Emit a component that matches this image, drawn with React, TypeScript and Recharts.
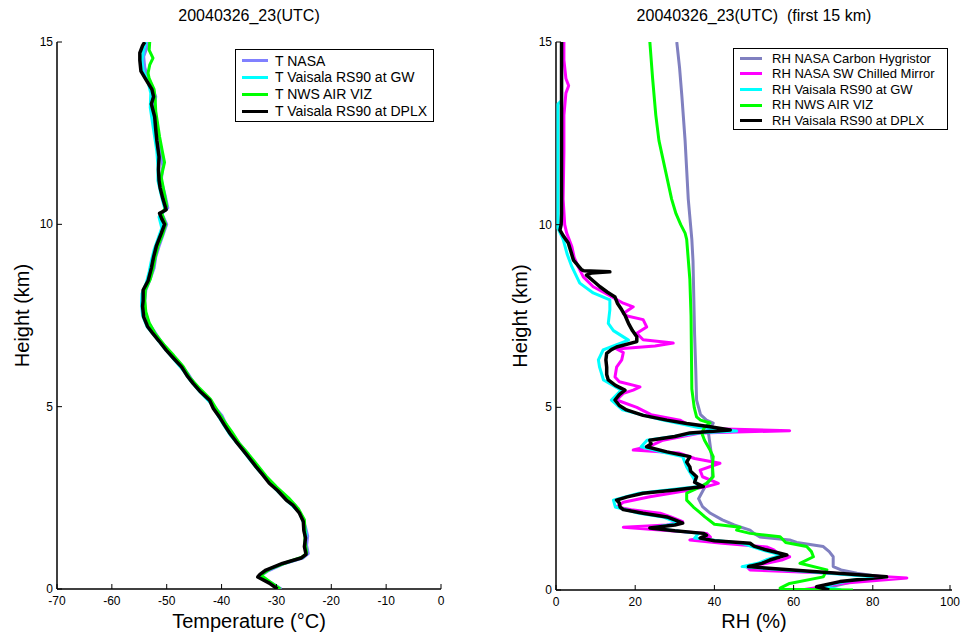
import React from 'react';
import { ScatterChart, Scatter, XAxis, YAxis } from 'recharts';

const FONT = '"Liberation Sans", Arial, Helvetica, sans-serif';

// each profile is a list of [height (km), value]
type Profile = [number, number][];

const heightTicks = [0, 5, 10, 15];
const tempTicks = [-70, -60, -50, -40, -30, -20, -10, 0];
const rhTicks = [0, 20, 40, 60, 80, 100];

// ---- temperature (°C) ----
const tNasa: Profile = [
  [0, -29.1], [0.18, -31], [0.35, -33], [0.5, -31.5], [0.7, -28.5], [0.85, -25.2], [0.97, -24.2],
  [1.2, -24.5], [1.45, -24.3], [1.7, -24.7], [2.0, -25.4], [2.3, -26.6], [2.6, -28.9], [2.9, -30.9],
  [3.2, -32.6], [3.5, -34.2], [3.8, -35.7], [4.1, -37.4], [4.4, -38.8], [4.75, -39.9], [5.0, -41.3],
  [5.3, -42.9], [5.6, -44.8], [5.9, -46.1], [6.2, -47.6], [6.5, -49.5], [6.8, -51.1], [7.05, -52.2],
  [7.3, -53.3], [7.6, -53.9], [7.9, -54], [8.2, -53.8], [8.5, -53.0], [8.8, -52.3], [9.1, -52],
  [9.4, -51.4], [9.7, -50.7], [10.0, -50.0], [10.3, -50.9], [10.45, -49.8], [10.8, -50.3],
  [11.2, -51.0], [11.6, -50.7], [12.0, -51.2], [12.4, -51.5], [12.8, -51.8], [13.2, -52.4],
  [13.5, -52.0], [13.8, -52.7], [14.0, -53.3], [14.3, -54.0], [14.6, -54.2], [14.85, -53.6], [15.0, -53.5],
];

const tGw: Profile = [
  [0, -29.5], [0.18, -31.4], [0.35, -33.2], [0.52, -31.7], [0.7, -28.7], [0.86, -25.3], [0.97, -24.5],
  [1.2, -24.8], [1.5, -24.6], [1.8, -25.0], [2.1, -25.8], [2.4, -27.9], [2.7, -29.9], [3.0, -31.7],
  [3.3, -33.5], [3.6, -35.1], [3.9, -36.6], [4.2, -38.3], [4.5, -39.6], [4.8, -40.8], [5.1, -42.0],
  [5.4, -43.9], [5.7, -45.6], [6.0, -47.0], [6.3, -48.7], [6.6, -50.4], [6.9, -52.0], [7.2, -53.6],
  [7.5, -54.4], [7.8, -54.6], [8.1, -54.5], [8.4, -53.7], [8.7, -53.2], [9.0, -52.8], [9.3, -52.3],
  [9.6, -51.6], [9.9, -50.9], [10.2, -51.4], [10.4, -50.3], [10.8, -51], [11.2, -51.6], [11.6, -51.6],
  [12.0, -51.8], [12.4, -52.2], [12.8, -52.6], [13.2, -53.0], [13.6, -52.9], [13.9, -53.4],
  [14.2, -54.3], [14.5, -54.5], [14.8, -54.2], [15.0, -53.8],
];

const tNws: Profile = [
  [0, -29.3], [0.2, -31.2], [0.38, -32.8], [0.55, -31.2], [0.72, -28.3], [0.88, -25.2], [1.0, -24.5],
  [1.3, -24.8], [1.6, -24.8], [1.9, -24.9], [2.2, -26.0], [2.5, -27.8], [2.8, -30.0], [3.1, -31.9],
  [3.4, -33.5], [3.7, -35.1], [4.0, -36.8], [4.3, -38.1], [4.6, -39.5], [4.9, -40.8], [5.2, -42.0],
  [5.5, -44.0], [5.8, -45.8], [6.1, -47.0], [6.4, -48.7], [6.7, -50.5], [7.0, -52.1], [7.3, -53.2],
  [7.6, -53.8], [7.9, -54.0], [8.2, -53.9], [8.5, -53.0], [8.8, -52.5], [9.1, -52.1], [9.4, -51.6],
  [9.7, -50.8], [10.0, -50.2], [10.3, -50.9], [10.5, -50.0], [10.9, -50.5], [11.3, -51.0],
  [11.7, -50.4], [12.0, -50.8], [12.4, -51.3], [12.8, -51.7], [13.1, -52.0], [13.4, -52.1],
  [13.7, -52.3], [14.0, -53.2], [14.15, -53.4], [14.37, -53.1], [14.56, -52.5], [14.78, -53.2], [15.0, -53.1],
];

const tDplx: Profile = [
  [0.0, -29.8], [0.16, -31.3], [0.33, -33.4], [0.4, -33.0], [0.52, -31.9], [0.7, -28.9], [0.85, -25.5],
  [0.95, -24.6], [1.16, -24.9], [1.4, -24.7], [1.6, -25.0], [1.85, -25.1], [2.08, -25.8], [2.3, -27.0],
  [2.44, -28.2], [2.7, -29.8], [2.9, -31.3], [3.15, -32.6], [3.35, -33.7], [3.6, -35.0], [3.81, -36.1],
  [4.05, -37.4], [4.27, -38.5], [4.5, -39.5], [4.72, -40.4], [4.95, -41.5], [5.18, -42.2], [5.4, -43.8],
  [5.64, -45.2], [5.85, -46.3], [6.09, -47.3], [6.3, -48.6], [6.55, -50.1], [6.8, -51.4], [7.0, -52.5],
  [7.2, -53.5], [7.46, -54.2], [7.75, -54.4], [7.9, -54.3], [8.2, -54.3], [8.45, -53.4], [8.8, -52.8],
  [9.1, -52.4], [9.4, -51.9], [9.75, -51.0], [10.0, -50.4], [10.15, -50.9], [10.3, -51.3], [10.4, -50.1],
  [10.7, -50.7], [11.0, -51.2], [11.2, -51.4], [11.5, -51.5], [11.85, -51.4], [12.3, -51.8],
  [12.6, -52.0], [12.95, -52.2], [13.3, -52.8], [13.5, -52.4], [13.7, -52.7], [13.95, -53.7],
  [14.2, -54.7], [14.5, -54.9], [14.7, -54.9], [14.9, -54.4], [15.0, -54.0],
];

// ---- relative humidity (%) ----
const rhNasaCarbon: Profile = [
  [0, 66], [0.1, 70], [0.25, 76], [0.36, 82], [0.46, 76], [0.55, 72], [0.64, 70], [0.8, 70],
  [0.91, 70], [1.05, 69], [1.19, 67.5], [1.3, 60.8], [1.37, 59], [1.45, 51.5], [1.55, 50],
  [1.64, 49], [1.78, 45], [1.92, 42], [2.1, 39], [2.28, 37], [2.5, 36], [2.8, 37.5], [3.1, 39.5],
  [3.5, 39.5], [3.9, 39], [4.3, 38.5], [4.57, 39.7], [4.65, 38], [4.8, 36.5], [5.2, 35.5], [6, 35.3],
  [7, 35], [8, 34.8], [9, 34.6], [9.6, 34.3], [10.7, 33.4], [11.5, 33], [12.3, 32.6], [13.5, 31.8],
  [14.3, 31.2], [15, 30.5],
];

const rhNasaMirror: Profile = [
  [0, 62], [0.1, 68], [0.18, 71.7], [0.33, 88.6], [0.4, 78], [0.46, 70], [0.55, 49], [0.64, 48.2],
  [0.73, 53.2], [0.82, 57], [0.91, 59], [1.0, 56], [1.1, 55], [1.18, 53.2], [1.28, 42], [1.37, 33.8],
  [1.45, 39], [1.55, 38], [1.63, 28], [1.72, 17], [1.78, 28], [1.87, 32], [2.0, 29], [2.1, 26.3],
  [2.2, 19], [2.27, 15.3], [2.4, 17], [2.55, 23.7], [2.65, 29], [2.74, 33.8], [2.83, 38], [2.92, 41],
  [3.1, 37], [3.28, 36.4], [3.47, 41.4], [3.6, 35], [3.75, 31], [3.83, 19.5], [3.95, 24], [4.1, 27],
  [4.3, 36.4], [4.36, 59], [4.42, 38], [4.55, 33], [4.65, 31.3], [4.8, 24], [5.0, 20.4], [5.2, 15.3],
  [5.38, 17], [5.47, 19.5], [5.56, 21.2], [5.7, 16], [5.83, 14.9], [6.1, 15.3], [6.3, 16.6], [6.5, 17],
  [6.6, 15.3], [6.68, 25], [6.76, 29.6], [6.85, 22], [7.03, 20.4], [7.2, 22.9], [7.4, 22], [7.5, 18],
  [7.57, 17], [7.75, 19.5], [7.85, 17], [8.0, 14.5], [8.15, 12], [8.3, 9.4], [8.57, 6.9], [8.85, 5.6],
  [9.1, 4.6], [9.4, 4], [9.77, 2.7], [10.0, 2.2], [10.7, 1.8], [12, 2], [13, 2], [13.6, 2.5],
  [13.8, 3.2], [14.0, 2.5], [14.5, 2], [15, 2],
];

const rhGw: Profile = [
  [0, 72], [0.1, 67], [0.23, 73], [0.36, 80], [0.5, 64], [0.64, 47], [0.73, 51], [0.82, 53],
  [0.96, 57], [1.1, 52], [1.28, 47], [1.42, 35], [1.55, 36], [1.7, 24], [1.83, 31], [2.0, 27],
  [2.1, 21], [2.27, 15], [2.46, 14.5], [2.65, 21], [2.83, 36], [3.1, 34.5], [3.37, 33], [3.65, 32],
  [3.8, 26], [3.92, 21.5], [4.1, 23], [4.3, 36], [4.35, 45.6], [4.45, 36], [4.65, 27], [4.93, 16.8],
  [5.2, 14], [5.47, 16.5], [5.75, 12], [6.1, 11], [6.3, 10.7], [6.57, 11.9], [6.84, 18.3], [7.1, 14.5],
  [7.3, 13.2], [7.67, 13.6], [7.94, 13.6], [8.13, 9.4], [8.4, 6], [8.85, 4], [9.2, 2.8], [9.6, 1.8],
  [9.9, 0.5], [11, 0.5], [12, 0.5], [13, 0.5], [13.3, 0.5], [13.4, 1.4], [15, 1.4],
];

const rhNws: Profile = [
  [0, 75], [0.02, 57], [0.05, 56.6], [0.18, 59], [0.36, 67.5], [0.55, 68.4], [0.73, 61.6], [0.91, 65],
  [1.05, 64.5], [1.19, 63.3], [1.3, 58], [1.46, 56.6], [1.55, 49], [1.64, 45.6], [1.72, 46.5],
  [1.8, 40], [2.0, 37.6], [2.15, 36], [2.27, 34.7], [2.46, 33], [2.65, 33], [2.8, 36], [2.92, 38],
  [3.1, 39.7], [3.4, 39.5], [3.65, 39.7], [3.83, 38.9], [4.1, 37.5], [4.3, 36.8], [4.45, 37.5],
  [4.57, 38.9], [4.65, 36.5], [4.74, 35.5], [5.0, 34.9], [5.5, 34.3], [6.5, 34.2], [7.5, 34.1],
  [8.5, 33.8], [9.6, 33], [9.77, 32.6], [10.0, 31.5], [10.3, 30.3], [10.7, 29.2], [11.5, 27.6],
  [12.3, 26], [13.0, 25.2], [14.0, 24.4], [15, 23.7],
];

const rhDplx: Profile = [
  [0.0, 69], [0.09, 65.8], [0.23, 71.7], [0.36, 83.5], [0.5, 65.8], [0.64, 48.6], [0.73, 52],
  [0.82, 54], [0.96, 58.3], [1.1, 53], [1.2, 50], [1.28, 49], [1.35, 40], [1.42, 36.4], [1.5, 38],
  [1.55, 37.2], [1.62, 30], [1.7, 23.7], [1.78, 30], [1.83, 32], [1.92, 30], [2.0, 28], [2.1, 22],
  [2.2, 17], [2.27, 16.2], [2.38, 16], [2.46, 15.3], [2.55, 18], [2.65, 22], [2.74, 30], [2.83, 37.2],
  [2.95, 35], [3.1, 35.5], [3.25, 34], [3.37, 33.8], [3.5, 33], [3.65, 33.8], [3.78, 28], [3.92, 22.9],
  [4.0, 24], [4.1, 23.7], [4.2, 30], [4.3, 33.8], [4.38, 44], [4.47, 38.9], [4.56, 33], [4.65, 28],
  [4.78, 22], [4.93, 17.8], [5.05, 16], [5.2, 14.9], [5.35, 16], [5.47, 17.4], [5.6, 15], [5.75, 13.2],
  [5.9, 12.8], [6.1, 12.8], [6.3, 12.6], [6.48, 12.8], [6.58, 14], [6.65, 15.3], [6.8, 20.4],
  [6.93, 20.4], [7.1, 19.3], [7.3, 18.3], [7.5, 17.5], [7.67, 16.6], [7.85, 15.5], [8.02, 14.9],
  [8.15, 13], [8.3, 11.1], [8.45, 9.5], [8.62, 7.7], [8.68, 9], [8.71, 13.6], [8.74, 7], [8.76, 6.5],
  [9.03, 4.4], [9.25, 3.8], [9.5, 3.1], [9.7, 1.8], [9.85, 1.0], [10.0, 1.3], [10.3, 1.4], [11, 1.4],
  [12, 1.4], [13, 1.4], [14, 1.4], [15, 1.4],
];

interface Series {
  name: string;
  color: string;
  width: number;
  data: Profile;
}

const tempSeries: Series[] = [
  { name: 'T NASA', color: '#8080ff', width: 3, data: tNasa },
  { name: 'T Vaisala RS90 at GW', color: '#00ffff', width: 3, data: tGw },
  { name: 'T NWS AIR VIZ', color: '#00ff00', width: 3, data: tNws },
  { name: 'T Vaisala RS90 at DPLX', color: '#000000', width: 3.5, data: tDplx },
];

const rhSeries: Series[] = [
  { name: 'RH NASA Carbon Hygristor', color: '#8080c0', width: 3, data: rhNasaCarbon },
  { name: 'RH NASA SW Chilled Mirror', color: '#ff00ff', width: 3, data: rhNasaMirror },
  { name: 'RH Vaisala RS90 at GW', color: '#00ffff', width: 3, data: rhGw },
  { name: 'RH NWS AIR VIZ', color: '#00ff00', width: 3, data: rhNws },
  { name: 'RH Vaisala RS90 at DPLX', color: '#000000', width: 3.5, data: rhDplx },
];

const toPoints = (p: Profile) => p.map(([h, v]) => ({ h, v }));

// inward tick marks, like the original plotting package
const BottomTick = ({ x, y, payload }: any) => (
  <g>
    <line x1={x} y1={y} x2={x} y2={y - 5} stroke="#000" strokeWidth={1} />
    <text x={x} y={y + 16} textAnchor="middle" fontSize={12} fontFamily={FONT} fill="#000">
      {payload.value}
    </text>
  </g>
);

const TopTick = ({ x, y }: any) => (
  <line x1={x} y1={y} x2={x} y2={y + 5} stroke="#000" strokeWidth={1} />
);

const LeftTick = ({ x, y, payload }: any) => (
  <g>
    <line x1={x} y1={y} x2={x + 5} y2={y} stroke="#000" strokeWidth={1} />
    <text x={x - 4} y={y + 4} textAnchor="end" fontSize={12} fontFamily={FONT} fill="#000">
      {payload.value}
    </text>
  </g>
);

const RightTick = ({ x, y }: any) => (
  <line x1={x} y1={y} x2={x - 5} y2={y} stroke="#000" strokeWidth={1} />
);

const noDot = () => <g />;

interface PanelProps {
  left: number;
  width: number;
  yAxisWidth: number;
  marginRight: number;
  xAxisHeight: number;
  title: string;
  xLabel: string;
  yLabelOffset: number;
  xDomain: [number, number];
  xTicks: number[];
  series: Series[];
  legend: { left: number; top: number; width: number; height: number; row: number; pad: number; swatch: number; textLeft: number; fontSize: number };
}

function ProfilePanel(p: PanelProps) {
  const lg = p.legend;
  return (
    <div style={{ position: 'absolute', left: p.left, top: 0, width: p.width, height: 637 }}>
      <div
        style={{
          position: 'absolute',
          left: p.yAxisWidth,
          width: p.width - p.yAxisWidth - p.marginRight,
          top: 8,
          textAlign: 'center',
          fontFamily: FONT,
          fontSize: 16,
          lineHeight: '16px',
          whiteSpace: 'pre',
          color: '#000',
        }}
      >
        {p.title}
      </div>
      <ScatterChart width={p.width} height={637} margin={{ top: 42, right: p.marginRight, bottom: 0, left: 0 }}>
        <XAxis
          xAxisId="b"
          type="number"
          dataKey="v"
          orientation="bottom"
          domain={p.xDomain}
          ticks={p.xTicks}
          allowDataOverflow
          height={p.xAxisHeight}
          tickSize={0}
          tickMargin={0}
          tick={<BottomTick />}
          axisLine={{ stroke: '#000', strokeWidth: 1.5 }}
          label={{ value: p.xLabel, position: 'insideBottom', offset: 9, fontSize: 20, fill: '#000', fontFamily: FONT }}
        />
        <XAxis
          xAxisId="t"
          type="number"
          orientation="top"
          domain={p.xDomain}
          ticks={p.xTicks}
          allowDataOverflow
          height={0}
          tickSize={0}
          tickMargin={0}
          tick={<TopTick />}
          axisLine={{ stroke: '#000', strokeWidth: 1 }}
        />
        <YAxis
          yAxisId="l"
          type="number"
          dataKey="h"
          domain={[0, 15]}
          ticks={heightTicks}
          allowDataOverflow
          width={p.yAxisWidth}
          tickSize={0}
          tickMargin={0}
          tick={<LeftTick />}
          axisLine={{ stroke: '#000', strokeWidth: 1.5 }}
          label={{
            value: 'Height (km)',
            angle: -90,
            position: 'insideLeft',
            offset: p.yLabelOffset,
            fontSize: 20,
            fill: '#000',
            fontFamily: FONT,
            style: { textAnchor: 'middle' },
          }}
        />
        <YAxis
          yAxisId="r"
          type="number"
          orientation="right"
          domain={[0, 15]}
          ticks={heightTicks}
          allowDataOverflow
          width={0}
          tickSize={0}
          tickMargin={0}
          tick={<RightTick />}
          axisLine={{ stroke: '#000', strokeWidth: 1 }}
        />
        {p.series.map((s) => (
          <Scatter
            key={s.name}
            name={s.name}
            xAxisId="b"
            yAxisId="l"
            data={toPoints(s.data)}
            fill={s.color}
            line={{ stroke: s.color, strokeWidth: s.width, strokeLinejoin: 'round' }}
            lineType="joint"
            shape={noDot}
            isAnimationActive={false}
          />
        ))}
      </ScatterChart>
      <div
        style={{
          position: 'absolute',
          left: lg.left,
          top: lg.top,
          width: lg.width,
          height: lg.height,
          boxSizing: 'border-box',
          border: '1px solid #000',
          background: '#fff',
          paddingTop: lg.pad,
        }}
      >
        {p.series.map((s) => (
          <div key={s.name} style={{ position: 'relative', height: lg.row }}>
            <div
              style={{
                position: 'absolute',
                left: 6,
                width: lg.swatch,
                top: lg.row / 2 - 1.5,
                height: 3,
                background: s.color,
              }}
            />
            <div
              style={{
                position: 'absolute',
                left: lg.textLeft,
                top: 0,
                height: lg.row,
                lineHeight: `${lg.row}px`,
                fontFamily: FONT,
                fontSize: lg.fontSize,
                whiteSpace: 'nowrap',
                color: '#000',
              }}
            >
              {s.name}
            </div>
          </div>
        ))}
      </div>
    </div>
  );
}

export default function App() {
  return (
    <div style={{ position: 'absolute', left: 0, top: 0, width: 962, height: 637, background: '#fff', overflow: 'hidden' }}>
      <ProfilePanel
        left={0}
        width={480}
        yAxisWidth={57}
        marginRight={39}
        xAxisHeight={48}
        title="20040326_23(UTC)"
        xLabel="Temperature (°C)"
        yLabelOffset={22}
        xDomain={[-70, 0]}
        xTicks={tempTicks}
        series={tempSeries}
        legend={{ left: 235, top: 49, width: 199, height: 73, row: 16.7, pad: 2.6, swatch: 26, textLeft: 39, fontSize: 14 }}
      />
      <ProfilePanel
        left={480}
        width={482}
        yAxisWidth={76}
        marginRight={10}
        xAxisHeight={47}
        title="20040326_23(UTC)  (first 15 km)"
        xLabel="RH (%)"
        yLabelOffset={40}
        xDomain={[0, 100]}
        xTicks={rhTicks}
        series={rhSeries}
        legend={{ left: 253, top: 48, width: 215, height: 82, row: 15.6, pad: 1.5, swatch: 22, textLeft: 38, fontSize: 13 }}
      />
    </div>
  );
}
